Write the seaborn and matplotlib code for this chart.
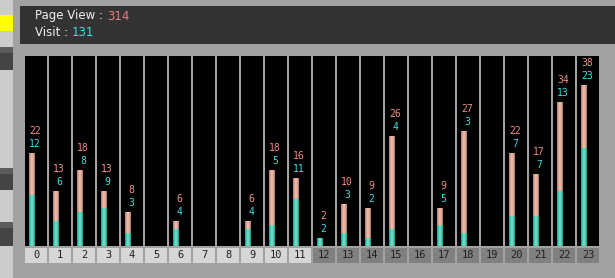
import matplotlib
matplotlib.use("Agg")
import matplotlib.pyplot as plt
from matplotlib.patches import Rectangle
import seaborn as sns
import pandas as pd

# hourly access counts
HOURS = list(range(24))
PAGE_VIEWS = [22, 13, 18, 13, 8, 0, 6, 0, 0, 6, 18, 16,
              2, 10, 9, 26, 0, 9, 27, 0, 22, 17, 34, 38]
VISITS = [12, 6, 8, 9, 3, 0, 4, 0, 0, 4, 5, 11,
          2, 3, 2, 4, 0, 5, 3, 0, 7, 7, 13, 23]
TOTAL_PV = 314
TOTAL_VISIT = 131

BG = "#a2a2a2"
PV_TXT = "#f09088"
VISIT_TXT = "#40e0e0"
W, H = 615, 278

df = pd.DataFrame({"hour": HOURS, "pv": PAGE_VIEWS, "visit": VISITS})

fig = plt.figure(figsize=(W / 100, H / 100), dpi=100, facecolor=BG)


def rect(x0, y0, x1, y1, color):
    # pixel box (top-left origin) -> figure patch
    fig.patches.append(Rectangle((x0 / W, 1 - y1 / H), (x1 - x0) / W, (y1 - y0) / H,
                                 transform=fig.transFigure, color=color, lw=0))


# left strip
rect(0, 0, 13, H, "#cccccc")
rect(0, 15, 13, 31, "#ffff00")
for top, bot in [(47, 70), (168, 190), (222, 246)]:
    rect(0, top, 13, bot, "#444444")
    rect(0, top, 13, top + 6, "#5c5c5c")

# header
rect(20, 6, W, 44, "#333333")
t1 = fig.text(35 / W, 1 - 16 / H, "Page View : ", color="#f0f0f0", fontsize=8.5, va="center")
fig.add_artist(plt.Annotation(str(TOTAL_PV), xy=(1, 0.5), xycoords=t1, va="center",
                              ha="left", color="#e88080", fontsize=8.5))
t2 = fig.text(35 / W, 1 - 33 / H, "Visit : ", color="#f0f0f0", fontsize=8.5, va="center")
fig.add_artist(plt.Annotation(str(TOTAL_VISIT), xy=(1, 0.5), xycoords=t2, va="center",
                              ha="left", color=VISIT_TXT, fontsize=8.5))

X0, X1 = -0.29, 23.625
COLW = 22 / 24

ax = fig.add_axes([25 / W, 1 - 246 / H, 574 / W, 190 / H])
ax.set_facecolor(BG)
for h in HOURS:
    ax.axvspan(h + X0, h + X0 + COLW, color="black", lw=0, zorder=0.5)

# page view bars, then visit bars in front (layered for a soft cylinder look)
for col, wd in [("#c08474", 0.26), ("#d8a292", 0.17), ("#e6b6a6", 0.08)]:
    sns.barplot(data=df, x="hour", y="pv", color=col, width=wd, saturation=1,
                errorbar=None, linewidth=0, ax=ax)
for col, wd in [("#2aae96", 0.26), ("#44c6ae", 0.17), ("#66dcc4", 0.08)]:
    sns.barplot(data=df, x="hour", y="visit", color=col, width=wd, saturation=1,
                errorbar=None, linewidth=0, ax=ax)

for i, (p, v) in enumerate(zip(PAGE_VIEWS, VISITS)):
    if p > 0:
        ax.annotate(str(p), (i, p), xytext=(3, 22), textcoords="offset pixels",
                    ha="center", va="center", color=PV_TXT, fontsize=7,
                    family="DejaVu Sans Mono")
        ax.annotate(str(v), (i, p), xytext=(3, 9), textcoords="offset pixels",
                    ha="center", va="center", color=VISIT_TXT, fontsize=7,
                    family="DejaVu Sans Mono")

ax.set_xlim(X0, X1)
ax.set_ylim(0, 44.8)
ax.set_xlabel("")
ax.set_ylabel("")
ax.set_xticks([])
ax.set_yticks([])
for s in ax.spines.values():
    s.set_visible(False)

# hour labels strip
lab = fig.add_axes([25 / W, 1 - 263 / H, 574 / W, 15 / H])
lab.set_facecolor(BG)
for h in HOURS:
    lab.axvspan(h + X0, h + X0 + COLW, color="#d6d6d6" if h < 12 else "#808080", lw=0)
    lab.text(h + X0 + COLW / 2, 0.5, str(h), ha="center", va="center", fontsize=7.5,
             color="#202020", family="DejaVu Sans Mono")
lab.set_xlim(X0, X1)
lab.set_ylim(0, 1)
lab.axis("off")

fig.savefig("out.png", dpi=100, facecolor=BG)
